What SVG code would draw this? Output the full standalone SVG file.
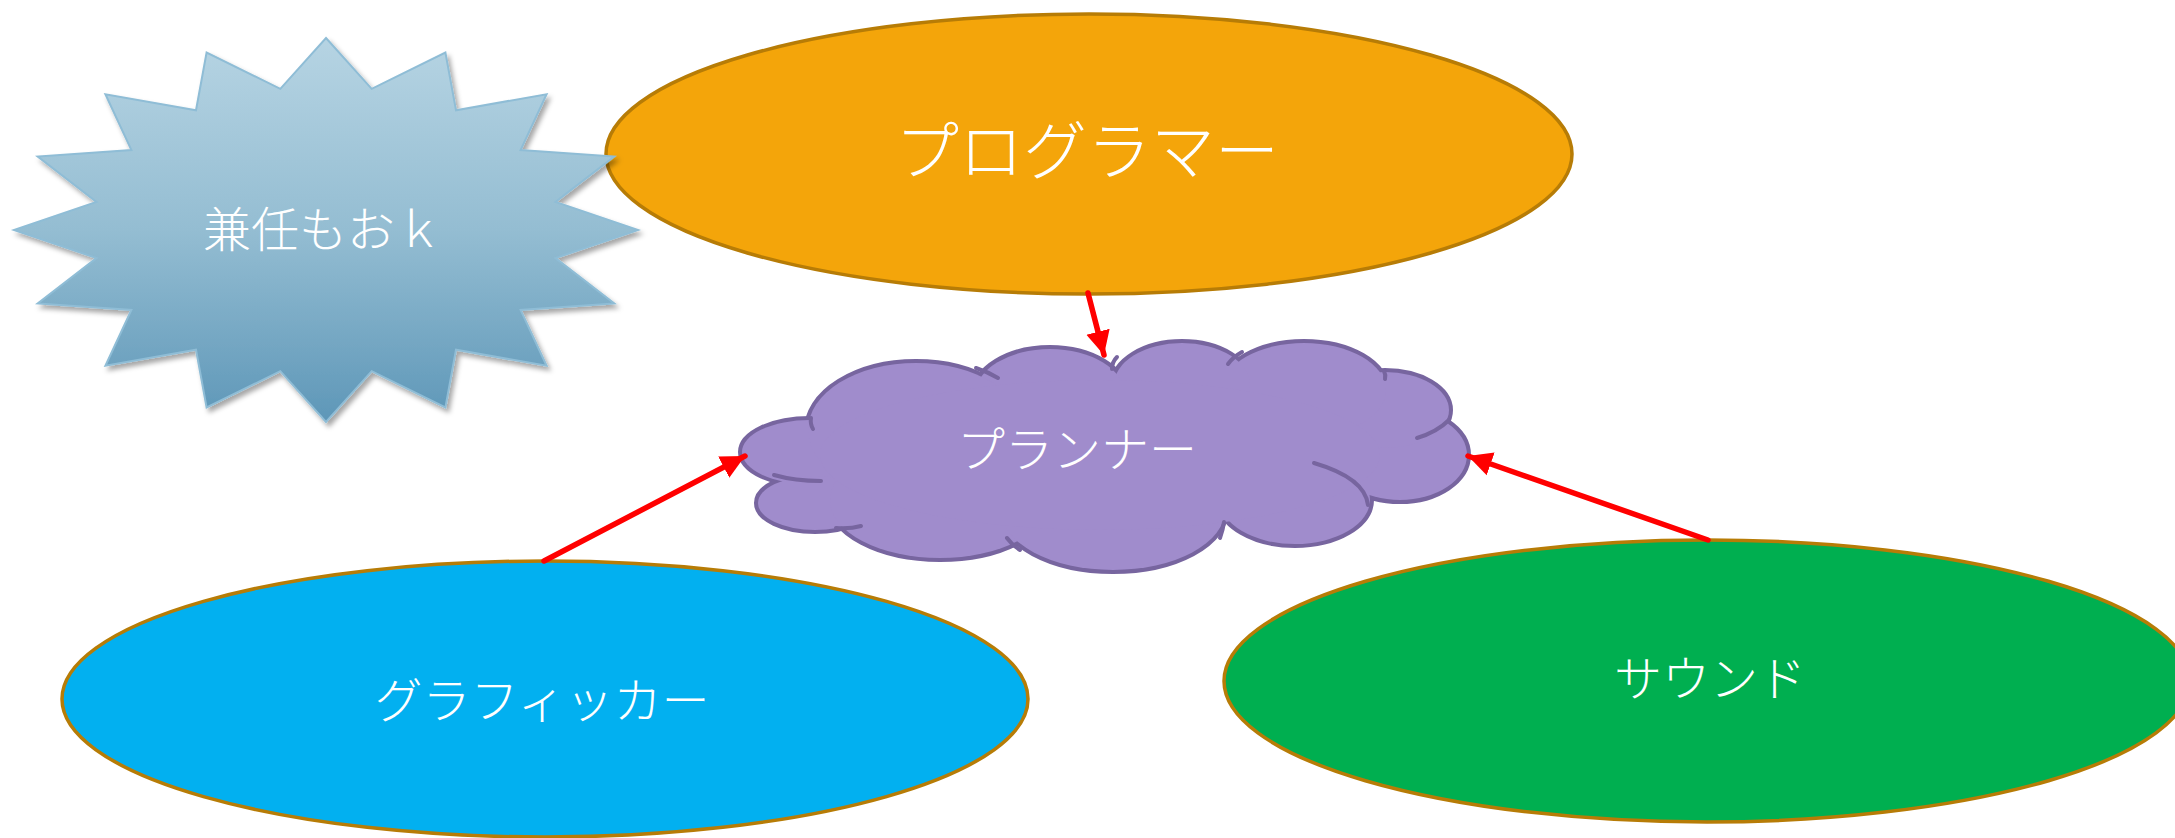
<svg xmlns="http://www.w3.org/2000/svg" width="2175" height="838" viewBox="0 0 2175 838">
<defs>
<linearGradient id="starGrad" x1="0" y1="0" x2="0" y2="1">
<stop offset="0" stop-color="#b6d4e3"/>
<stop offset="0.5" stop-color="#94bdd2"/>
<stop offset="1" stop-color="#5e97b8"/>
</linearGradient>
<filter id="shadow" x="-10%" y="-10%" width="120%" height="125%">
<feDropShadow dx="3" dy="4" stdDeviation="2.5" flood-color="#000" flood-opacity="0.35"/>
</filter>
<marker id="arrow" markerUnits="userSpaceOnUse" markerWidth="26" markerHeight="26" viewBox="0 0 26 26" refX="24" refY="13" orient="auto">
<path d="M0,1 L24,13 L0,25 Z" fill="#ff0000"/>
</marker>
</defs>
<style>
.ell{stroke:#b77c06;stroke-width:3.5}
.lbl{font-family:"Noto Sans CJK JP","Noto Sans",sans-serif;font-weight:300;fill:#ffffff;text-anchor:middle;dominant-baseline:central}
.cl{fill:#a08ccc}
.cls{fill:#a08ccc;stroke:#77659f;stroke-width:8}
.inner{fill:none;stroke:#77659f;stroke-width:4;stroke-linecap:round}
.conn{stroke:#ff0000;stroke-width:5.5;fill:none;stroke-linecap:round;marker-end:url(#arrow)}
</style>
<rect width="2175" height="838" fill="#ffffff"/>

<g id="programmer">
<ellipse class="ell" cx="1089" cy="154" rx="483" ry="140" fill="#f4a50a"/>
<text class="lbl" x="1087" y="146" font-size="64">プログラマー</text>
</g>

<g id="kennin">
<polygon filter="url(#shadow)" fill="url(#starGrad)" stroke="#8fbdd6" stroke-width="2" points="326,38 371.7,88.8 445.4,52.6 456,110.3 546.6,94.2 520.6,150 614.3,156.5 555.5,201.9 638,230 555.5,258.1 614.3,303.5 520.6,310 546.6,365.8 456,349.7 445.4,407.4 371.7,371.2 326,422 280.3,371.2 206.6,407.4 196,349.7 105.4,365.8 131.4,310 37.7,303.5 96.5,258.1 14,230 96.5,201.9 37.7,156.5 131.4,150 105.4,94.2 196,110.3 206.6,52.6 280.3,88.8"/>
<text class="lbl" x="323" y="226" font-size="48">兼任もおｋ</text>
</g>

<g id="graphicker">
<ellipse class="ell" cx="545" cy="699" rx="483" ry="138" fill="#02b0f0"/>
<text class="lbl" x="542" y="697" font-size="48">グラフィッカー</text>
</g>

<g id="sound">
<ellipse class="ell" cx="1707" cy="681" rx="483" ry="141" fill="#00af50"/>
<text class="lbl" x="1710" y="675" font-size="48">サウンド</text>
</g>

<g id="planner">
<g class="cls">
<ellipse cx="810" cy="452" rx="68" ry="32"/>
<ellipse cx="815" cy="503" rx="57" ry="27"/>
<ellipse cx="940" cy="500" rx="110" ry="58"/>
<ellipse cx="1113" cy="510" rx="112" ry="60"/>
<ellipse cx="1295" cy="500" rx="75" ry="44"/>
<ellipse cx="1400" cy="455" rx="67" ry="45"/>
<ellipse cx="1385" cy="410" rx="64" ry="38"/>
<ellipse cx="1304" cy="390" rx="82" ry="47"/>
<ellipse cx="1182" cy="385" rx="68" ry="42"/>
<ellipse cx="1050" cy="395" rx="75" ry="46"/>
<ellipse cx="916" cy="430" rx="108" ry="67"/>
</g>
<g class="cl">
<ellipse cx="810" cy="452" rx="68" ry="32"/>
<ellipse cx="815" cy="503" rx="57" ry="27"/>
<ellipse cx="940" cy="500" rx="110" ry="58"/>
<ellipse cx="1113" cy="510" rx="112" ry="60"/>
<ellipse cx="1295" cy="500" rx="75" ry="44"/>
<ellipse cx="1400" cy="455" rx="67" ry="45"/>
<ellipse cx="1385" cy="410" rx="64" ry="38"/>
<ellipse cx="1304" cy="390" rx="82" ry="47"/>
<ellipse cx="1182" cy="385" rx="68" ry="42"/>
<ellipse cx="1050" cy="395" rx="75" ry="46"/>
<ellipse cx="916" cy="430" rx="108" ry="67"/>
<ellipse cx="1100" cy="455" rx="280" ry="75"/>
</g>
<g class="inner">
<path d="M811,418 Q810,424 813,429"/>
<path d="M976,368 Q988,372 998,378"/>
<path d="M1117,357 Q1112,362 1112,369"/>
<path d="M1228,364 Q1233,357 1242,352"/>
<path d="M1384,371 Q1386,375 1385,379"/>
<path d="M1449,420 Q1437,432 1417,438"/>
<path d="M1314,463 Q1365,478 1368,505"/>
<path d="M1224,522 Q1223,530 1220,538"/>
<path d="M1007,538 Q1012,545 1020,550"/>
<path d="M836,528 Q850,529 861,526"/>
<path d="M774,475 Q795,481 821,481"/>
</g>
<text class="lbl" x="1077" y="446" font-size="48">プランナー</text>
</g>

<g id="connectors">
<line class="conn" x1="1088" y1="293" x2="1104" y2="355"/>
<line class="conn" x1="544" y1="561" x2="745" y2="456"/>
<line class="conn" x1="1708" y1="540" x2="1468" y2="456"/>
</g>
</svg>
